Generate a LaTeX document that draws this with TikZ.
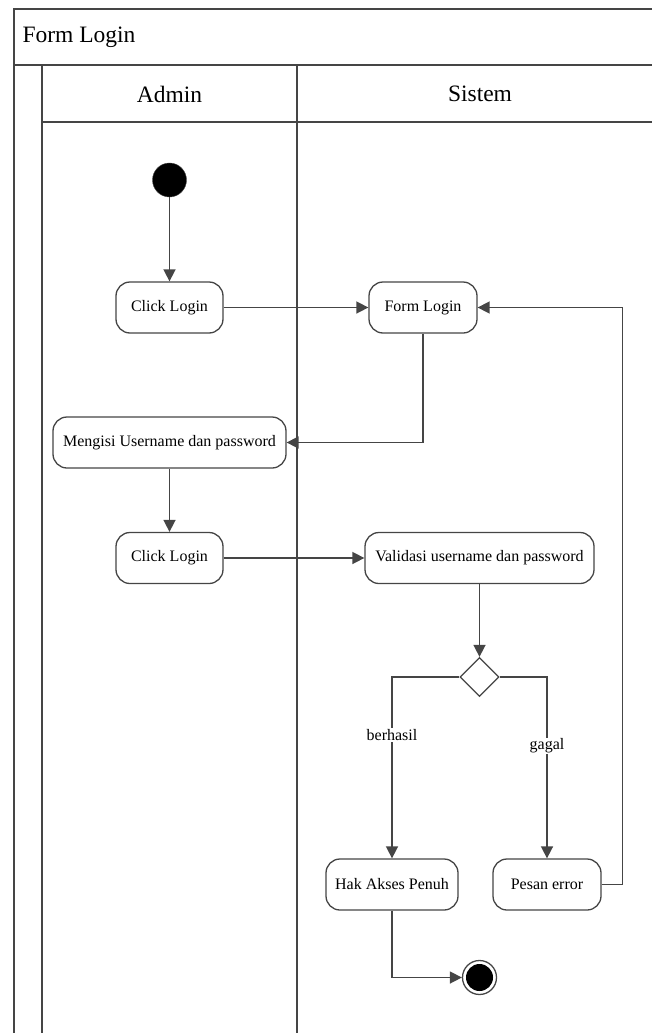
\documentclass[tikz,border=0pt]{standalone}
\usepackage{fontspec}
\setmainfont{Liberation Serif}
\usetikzlibrary{arrows.meta,shapes.geometric}
\definecolor{linegray}{HTML}{454545}
\tikzset{
    lane/.style={draw=linegray, line width=1.7pt},
    act/.style={draw=linegray, line width=1.3pt, rounded corners=14pt, minimum height=51pt, inner sep=0pt, font=\fontsize{16}{19}\selectfont},
    flow/.style={draw=linegray, line width=1.6pt, -{Triangle[width=12pt,length=12pt]}},
    guard/.style={fill=white, inner sep=1pt, font=\fontsize{16}{19}\selectfont},
    head/.style={font=\fontsize{23.5}{27}\selectfont},
}
\begin{document}
\begin{tikzpicture}[x=1pt,y=-1pt]
    \useasboundingbox (0,0) rectangle (652,1033);
    % pool and lanes
    \draw[lane] (14,9) rectangle (663,1045);
    \draw[lane] (14,65) -- (663,65);
    \draw[lane] (42,65) -- (42,1045);
    \draw[lane] (42,122) -- (663,122);
    \draw[lane] (297,65) -- (297,1045);
    \node[head, anchor=west] (pool) at (19,37) {Form Login};
    \node[head] (admin) at (169.5,94) {Admin};
    \node[head] (sistem) at (480,94) {Sistem};
    % activities
    \node[circle, fill=black, draw=linegray, minimum size=34pt, inner sep=0pt] (start) at (169.5,180) {};
    \node[act, minimum width=107pt] (click1) at (169.5,307.5) {Click Login};
    \node[act, minimum width=108pt] (form) at (423,307.5) {Form Login};
    \node[act, minimum width=233pt] (isi) at (169.5,442.5) {Mengisi Username dan password};
    \node[act, minimum width=107pt] (click2) at (169.5,558) {Click Login};
    \node[act, minimum width=229pt] (valid) at (479.5,558) {Validasi username dan password};
    \node[diamond, draw=linegray, fill=white, line width=1.3pt, minimum size=39pt, inner sep=0pt] (cek) at (479.5,677) {};
    \node[act, minimum width=132pt] (hak) at (392,884.5) {Hak Akses Penuh};
    \node[act, minimum width=108pt] (pesan) at (547,884.5) {Pesan error};
    \node[circle, draw=linegray, line width=1.3pt, minimum size=34pt, inner sep=0pt] (end) at (479.5,977.5) {};
    \fill[black] (end.center) circle[radius=13.5pt];
    % flows
    \draw[flow] (start) -- (click1);
    \draw[flow] (click1) -- (form);
    \draw[flow] (form.south) |- (isi.east);
    \draw[flow] (isi) -- (click2);
    \draw[flow] (click2) -- (valid);
    \draw[flow] (valid) -- (cek);
    \draw[flow] (cek.west) -| node[guard, pos=0.66] {berhasil} (hak.north);
    \draw[flow] (cek.east) -| node[guard, pos=0.69] {gagal} (pesan.north);
    \draw[flow] (pesan.east) -- ++(21,0) |- (form.east);
    \draw[flow] (hak.south) |- (end.west);
\end{tikzpicture}
\end{document}
